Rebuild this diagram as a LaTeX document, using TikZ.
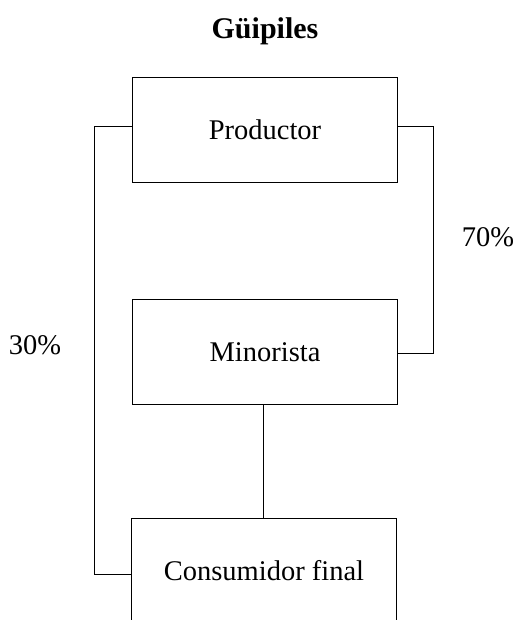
\documentclass[tikz,border=0pt]{standalone}
\usepackage{fontspec}
\setmainfont{Liberation Serif}
\begin{document}
\begin{tikzpicture}[x=1pt,y=-1pt,
  box/.style={draw, line width=1.6pt, minimum width=265pt, minimum height=105pt, inner sep=0pt, font=\fontsize{28.5}{32}\selectfont},
  conn/.style={line width=1pt},
  lbl/.style={font=\fontsize{28.5}{32}\selectfont}]
\useasboundingbox (0,0) rectangle (516,620);
\clip (0,0) rectangle (516,620);
\node[font=\bfseries\fontsize{30}{34}\selectfont] (title) at (265,31) {Güipiles};
\node[box] (prod) at (265,130) {Productor};
\node[box] (mino) at (265,352) {Minorista};
\node[box] (cons) at (264,571) {Consumidor final};
\coordinate (lt) at (94,127);
\coordinate (lb) at (94,574);
\coordinate (rt) at (433,127);
\coordinate (rb) at (433,353);
\draw[conn] (prod.west |- lt) -- (lt) -- (lb) -- (cons.west |- lb);
\draw[conn] (prod.east |- rt) -- (rt) -- (rb) -- (mino.east |- rb);
\draw[conn] (mino.south -| 263,0) -- (cons.north -| 263,0);
\node[lbl] (p70) at (488,237) {70\%};
\node[lbl] (p30) at (35,345) {30\%};
\end{tikzpicture}
\end{document}
